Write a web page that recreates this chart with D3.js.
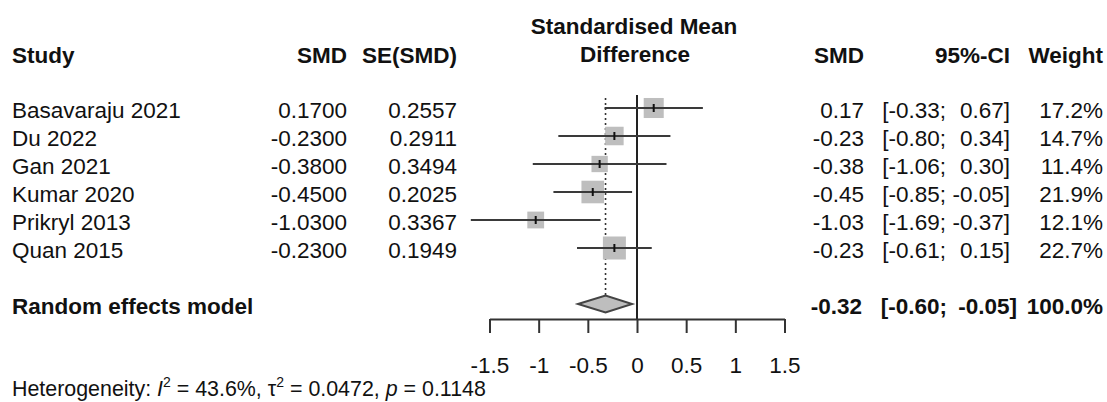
<!DOCTYPE html>
<html>
<head>
<meta charset="utf-8">
<script src="https://cdn.jsdelivr.net/npm/d3@7"></script>
<style>
  body { margin: 0; background: #fff; }
  svg text { font-family: "Liberation Sans", Arial, sans-serif; font-size: 22.5px; fill: #111; }
  .bold { font-weight: bold; }
</style>
</head>
<body>
<div id="chart"></div>
<script>
// forest plot data
var studies = ["Basavaraju 2021", "Du 2022", "Gan 2021", "Kumar 2020", "Prikryl 2013", "Quan 2015"];
var smd = [0.17, -0.23, -0.38, -0.45, -1.03, -0.23];
var se = [0.2557, 0.2911, 0.3494, 0.2025, 0.3367, 0.1949];
var ciLow = [-0.33, -0.80, -1.06, -0.85, -1.69, -0.61];
var ciHigh = [0.67, 0.34, 0.30, -0.05, -0.37, 0.15];
var weight = [17.2, 14.7, 11.4, 21.9, 12.1, 22.7];
var pooled = [-0.32, -0.60, -0.05];   // estimate, lower, upper
var xTicks = [-1.5, -1, -0.5, 0, 0.5, 1, 1.5];

var width = 1107, height = 402;

var svg = d3.select("#chart").append("svg")
    .attr("width", width)
    .attr("height", height);

var x = d3.scaleLinear().domain([-1.5, 1.5]).range([489.5, 784.5]);
var row = d3.scaleLinear().domain([0, 1]).range([108, 136]);
var box = d3.scaleSqrt().domain([0, 22.7]).range([0, 23]);

var axisY = 319, pooledRow = 7;

// headers
svg.append("text").attr("class", "bold").attr("x", 12).attr("y", 63).text("Study");
svg.append("text").attr("class", "bold").attr("x", 347).attr("y", 63).attr("text-anchor", "end").text("SMD");
svg.append("text").attr("class", "bold").attr("x", 457).attr("y", 63).attr("text-anchor", "end").text("SE(SMD)");
svg.append("text").attr("class", "bold").attr("x", 634).attr("y", 34).attr("text-anchor", "middle").text("Standardised Mean");
svg.append("text").attr("class", "bold").attr("x", 635).attr("y", 62).attr("text-anchor", "middle").text("Difference");
svg.append("text").attr("class", "bold").attr("x", 864).attr("y", 63).attr("text-anchor", "end").text("SMD");
svg.append("text").attr("class", "bold").attr("x", 1010).attr("y", 63).attr("text-anchor", "end").text("95%-CI");
svg.append("text").attr("class", "bold").attr("x", 1103).attr("y", 63).attr("text-anchor", "end").text("Weight");

// reference lines
svg.append("line")
    .attr("x1", x(0)).attr("x2", x(0))
    .attr("y1", 95).attr("y2", axisY)
    .attr("stroke", "#222").attr("stroke-width", 2);

svg.append("line")
    .attr("x1", x(pooled[0])).attr("x2", x(pooled[0]))
    .attr("y1", 98).attr("y2", row(pooledRow) - 8.5)
    .attr("stroke", "#333").attr("stroke-width", 1.6)
    .attr("stroke-dasharray", "2,3");

// study rows
var rows = svg.selectAll("g.study")
    .data(studies)
    .enter().append("g")
    .attr("class", "study");

rows.append("text").attr("x", 12).attr("y", function(d, i) { return row(i) + 10; }).text(function(d) { return d; });
rows.append("text").attr("x", 347).attr("text-anchor", "end")
    .attr("y", function(d, i) { return row(i) + 10; })
    .text(function(d, i) { return smd[i].toFixed(4); });
rows.append("text").attr("x", 457).attr("text-anchor", "end")
    .attr("y", function(d, i) { return row(i) + 10; })
    .text(function(d, i) { return se[i].toFixed(4); });

rows.append("rect")
    .attr("x", function(d, i) { return x(smd[i]) - box(weight[i]) / 2; })
    .attr("y", function(d, i) { return row(i) - box(weight[i]) / 2; })
    .attr("width", function(d, i) { return box(weight[i]); })
    .attr("height", function(d, i) { return box(weight[i]); })
    .attr("fill", "#bebebe");

rows.append("line")
    .attr("x1", function(d, i) { return x(ciLow[i]); })
    .attr("x2", function(d, i) { return x(ciHigh[i]); })
    .attr("y1", function(d, i) { return row(i); })
    .attr("y2", function(d, i) { return row(i); })
    .attr("stroke", "#3a3a3a").attr("stroke-width", 2);

rows.append("line")
    .attr("x1", function(d, i) { return x(smd[i]); })
    .attr("x2", function(d, i) { return x(smd[i]); })
    .attr("y1", function(d, i) { return row(i) - 4; })
    .attr("y2", function(d, i) { return row(i) + 4; })
    .attr("stroke", "#111").attr("stroke-width", 2);

rows.append("text").attr("x", 864).attr("text-anchor", "end")
    .attr("y", function(d, i) { return row(i) + 10; })
    .text(function(d, i) { return smd[i].toFixed(2); });
rows.append("text").attr("x", 946).attr("text-anchor", "end")
    .attr("y", function(d, i) { return row(i) + 10; })
    .text(function(d, i) { return "[" + ciLow[i].toFixed(2) + ";"; });
rows.append("text").attr("x", 1010).attr("text-anchor", "end")
    .attr("y", function(d, i) { return row(i) + 10; })
    .text(function(d, i) { return ciHigh[i].toFixed(2) + "]"; });
rows.append("text").attr("x", 1103).attr("text-anchor", "end")
    .attr("y", function(d, i) { return row(i) + 10; })
    .text(function(d, i) { return weight[i].toFixed(1) + "%"; });

// pooled estimate
var py = row(pooledRow);
svg.append("text").attr("class", "bold").attr("x", 12).attr("y", py + 10).text("Random effects model");
svg.append("polygon")
    .attr("points", [
        [x(pooled[1]), py], [x(pooled[0]), py - 8.5],
        [x(pooled[2]), py], [x(pooled[0]), py + 8.5]
    ].map(function(p) { return p.join(","); }).join(" "))
    .attr("fill", "#bebebe").attr("stroke", "#444").attr("stroke-width", 2);

svg.append("text").attr("class", "bold").attr("x", 862).attr("y", py + 10).attr("text-anchor", "end")
    .text(pooled[0].toFixed(2));
svg.append("text").attr("class", "bold").attr("x", 947).attr("y", py + 10).attr("text-anchor", "end")
    .text("[" + pooled[1].toFixed(2) + ";");
svg.append("text").attr("class", "bold").attr("x", 1017).attr("y", py + 10).attr("text-anchor", "end")
    .text(pooled[2].toFixed(2) + "]");
svg.append("text").attr("class", "bold").attr("x", 1103).attr("y", py + 10).attr("text-anchor", "end")
    .text("100.0%");

// x axis
var xAxis = d3.axisBottom(x)
    .tickValues(xTicks)
    .tickFormat(function(d) { return String(d); })
    .tickSize(14)
    .tickSizeOuter(0)
    .tickPadding(24);

var gx = svg.append("g")
    .attr("transform", "translate(0," + axisY + ")")
    .call(xAxis);
gx.select(".domain").attr("stroke", "#333").attr("stroke-width", 2);
gx.selectAll(".tick line").attr("stroke", "#333").attr("stroke-width", 2);
gx.selectAll(".tick text").attr("font-family", null).attr("font-size", null).attr("fill", null);

// heterogeneity
var het = svg.append("text").attr("x", 12).attr("y", 396).style("font-size", "21.4px");
het.append("tspan").text("Heterogeneity: ");
het.append("tspan").attr("font-style", "italic").text("I");
het.append("tspan").attr("dy", -9).style("font-size", "14px").text("2");
het.append("tspan").attr("dy", 9).text(" = 43.6%, \u03c4");
het.append("tspan").attr("dy", -9).style("font-size", "14px").text("2");
het.append("tspan").attr("dy", 9).text(" = 0.0472, ");
het.append("tspan").attr("font-style", "italic").text("p");
het.append("tspan").text(" = 0.1148");
</script>
</body>
</html>
